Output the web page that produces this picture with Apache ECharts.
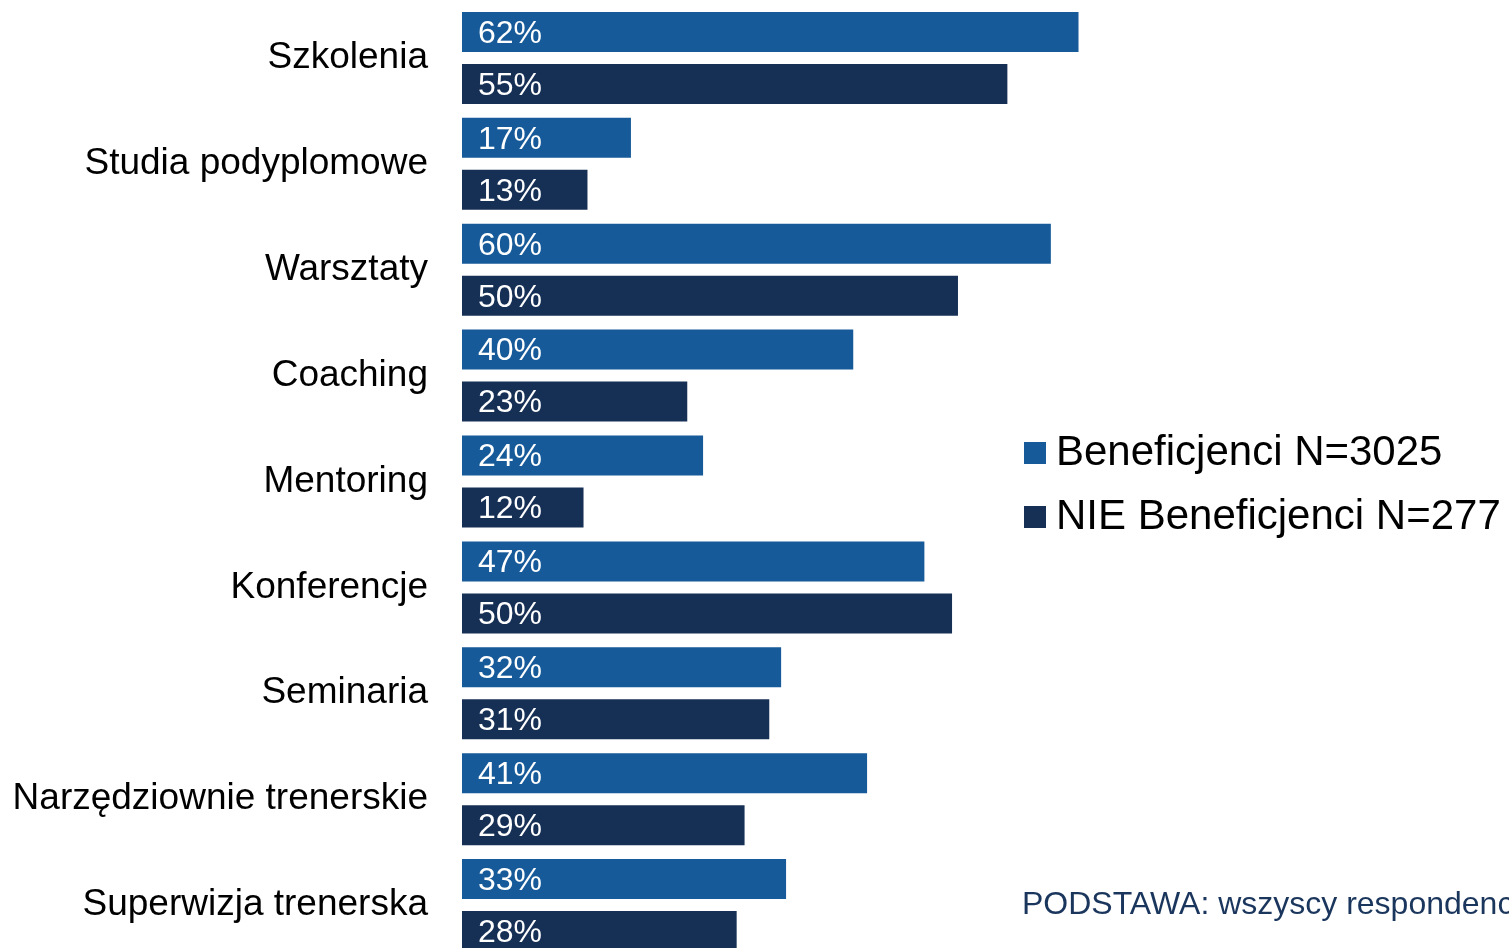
<!DOCTYPE html>
<html>
<head>
<meta charset="utf-8">
<script src="https://cdn.jsdelivr.net/npm/echarts@6/dist/echarts.min.js"></script>
<style>
  html, body { margin: 0; padding: 0; background: #fff; overflow: hidden; }
  /* wykres wychodzi poza dolną krawędź okna, jak w oryginale (ostatni słupek ucięty) */
  #chart { width: 1509px; height: 960px; }
</style>
</head>
<body>
<div id="chart"></div>
<script>
// formy doskonalenia: Beneficjenci vs NIE Beneficjenci (%)
const categories = ["Szkolenia", "Studia podyplomowe", "Warsztaty", "Coaching", "Mentoring",
  "Konferencje", "Seminaria", "Narzędziownie trenerskie", "Superwizja trenerska"];
const beneficjenci = [62.4, 17.1, 59.6, 39.6, 24.4, 46.8, 32.3, 41.0, 32.8];
const nieBeneficjenci = [55.2, 12.7, 50.2, 22.8, 12.3, 49.6, 31.1, 28.6, 27.8];
const seriesNames = ["Beneficjenci N=3025", "NIE Beneficjenci N=277"];
const footnote = "PODSTAWA: wszyscy respondenci";

const FONT = "'Liberation Sans', Arial, sans-serif";
const colors = ["#175A99", "#162F55"];

const chart = echarts.init(document.getElementById("chart"));

const label = {
  show: true, position: "insideLeft", distance: 16, offset: [0, 2],
  color: "#fff", fontSize: 32, fontFamily: FONT,
  formatter: p => Math.round(p.value) + "%",
};

chart.setOption({
  animation: false,
  color: colors,
  textStyle: { fontFamily: FONT },
  title: {
    text: footnote, left: 1022, top: 889, padding: 0,
    textStyle: { color: "#1B365D", fontSize: 32, fontWeight: "normal", fontFamily: FONT },
  },
  legend: {
    orient: "vertical", left: 1024, top: 432, itemGap: 22, padding: 0,
    icon: "rect", itemWidth: 22, itemHeight: 22,
    textStyle: { color: "#000", fontSize: 42, fontFamily: FONT, padding: [0, 0, 0, 5] },
    data: seriesNames,
  },
  grid: { left: 462, top: 5, width: 988, height: 953 },
  xAxis: { type: "value", min: 0, max: 100, show: false },
  yAxis: {
    type: "category", data: categories, inverse: true,
    axisLine: { show: false }, axisTick: { show: false },
    axisLabel: { color: "#000", fontSize: 37, fontFamily: FONT, margin: 34, padding: [4, 0, 0, 0] },
  },
  series: [
    { name: seriesNames[0], type: "bar", data: beneficjenci, barWidth: 40, barGap: "30%", label },
    { name: seriesNames[1], type: "bar", data: nieBeneficjenci, barWidth: 40, barGap: "30%", label },
  ],
});
</script>
</body>
</html>
